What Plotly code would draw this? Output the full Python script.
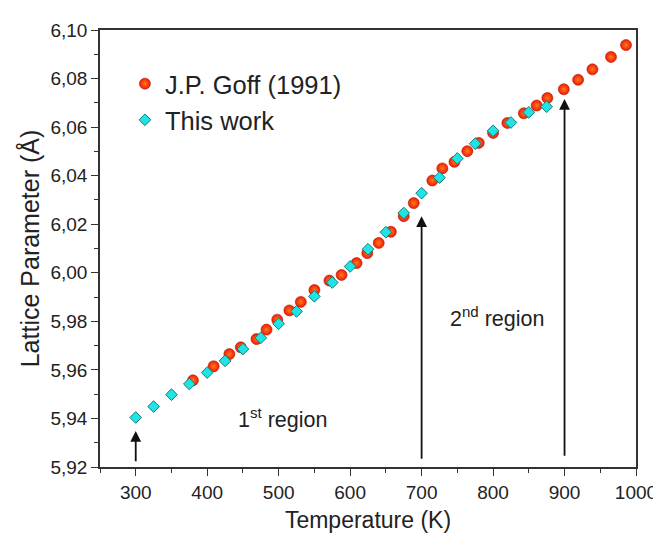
import plotly.graph_objects as go

# ---- data ----
goff_T = [380, 409, 431, 447, 469, 483, 498, 515, 531, 550, 571, 588, 609, 624, 640,
          657, 675, 689, 715, 729, 746, 764, 780, 800, 820, 843, 861, 876, 899, 919,
          939, 965, 986]
goff_a = [5.9557, 5.9615, 5.9665, 5.9693, 5.9727, 5.9766, 5.9807, 5.9845, 5.9880, 5.9929,
          5.9968, 5.9991, 6.0040, 6.0081, 6.0123, 6.0169, 6.0233, 6.0287, 6.0380, 6.0430,
          6.0457, 6.0501, 6.0535, 6.0576, 6.0617, 6.0657, 6.0689, 6.0720, 6.0756, 6.0795,
          6.0838, 6.0889, 6.0938]

work_T = [300, 325, 350, 375, 400, 425, 450, 475, 500, 525, 550, 575, 600, 625, 650,
          675, 700, 725, 750, 775, 800, 825, 850, 875]
work_a = [5.9404, 5.9449, 5.9498, 5.9542, 5.9589, 5.9637, 5.9686, 5.9732, 5.9790, 5.9841,
          5.9903, 5.9960, 6.0026, 6.0097, 6.0167, 6.0246, 6.0328, 6.0392, 6.0471, 6.0532,
          6.0585, 6.0619, 6.0661, 6.0684]

arrow_T = [300, 700, 900]
arrow_tip = [5.9348, 6.0233, 6.0716]
arrow_base = [5.9218, 5.9228, 5.9240]

region_labels = ["1<sup>st</sup> region", "2<sup>nd</sup> region"]
region_T = [505, 806]
region_a = [5.9400, 5.9818]

FONT = "Liberation Sans, Arial, sans-serif"
TXT = "#222222"

fig = go.Figure()
fig.add_trace(go.Scatter(
    x=goff_T, y=goff_a, mode="markers", name="J.P. Goff (1991)",
    marker=dict(symbol="circle", size=11, color="#f01a08",
                gradient=dict(type="radial", color="#ff7a18"),
                line=dict(width=0.6, color="#b41200")),
))
fig.add_trace(go.Scatter(
    x=work_T, y=work_a, mode="markers", name="This work",
    marker=dict(symbol="diamond", size=9, color="#1ee4e4",
                line=dict(width=1, color="#167c7c")),
))

annotations = []
for t, tip, base in zip(arrow_T, arrow_tip, arrow_base):
    annotations.append(dict(
        x=t, y=tip, ax=t, ay=base, xref="x", yref="y", axref="x", ayref="y",
        showarrow=True, arrowhead=2, arrowsize=1.2, arrowwidth=1.8,
        arrowcolor="#111111", text="",
    ))
for lab, t, a in zip(region_labels, region_T, region_a):
    annotations.append(dict(
        x=t, y=a, xref="x", yref="y", text=lab, showarrow=False,
        font=dict(family=FONT, size=21.5, color=TXT),
    ))

axis_common = dict(
    showline=True, linecolor="#333333", linewidth=1.5, mirror=True,
    ticks="outside", ticklen=7, tickwidth=1.3, tickcolor="#333333",
    showgrid=False, zeroline=False,
    tickfont=dict(family=FONT, size=19, color=TXT),
)

fig.update_layout(
    width=661, height=533,
    margin=dict(l=92, r=24, t=22, b=70),
    paper_bgcolor="white", plot_bgcolor="white",
    separators=", ",
    font=dict(family=FONT, color=TXT),
    xaxis=dict(
        range=[250, 1000], dtick=100, tick0=0,
        minor=dict(dtick=50, ticks="outside", ticklen=4, tickcolor="#333333"),
        title=dict(text="Temperature (K)", font=dict(family=FONT, size=23, color=TXT), standoff=10),
        **axis_common,
    ),
    yaxis=dict(
        range=[5.92, 6.10], dtick=0.02, tick0=5.92, tickformat=".2f",
        minor=dict(dtick=0.01, ticks="outside", ticklen=4, tickcolor="#333333"),
        title=dict(text="Lattice Parameter (Å)", font=dict(family=FONT, size=25, color=TXT), standoff=4),
        **axis_common,
    ),
    legend=dict(
        x=0.0465, y=0.93, xanchor="left", yanchor="top",
        font=dict(family=FONT, size=25.5, color=TXT),
        bgcolor="rgba(0,0,0,0)", borderwidth=0,
    ),
    annotations=annotations,
    showlegend=True,
)

fig.write_html("out.html")
